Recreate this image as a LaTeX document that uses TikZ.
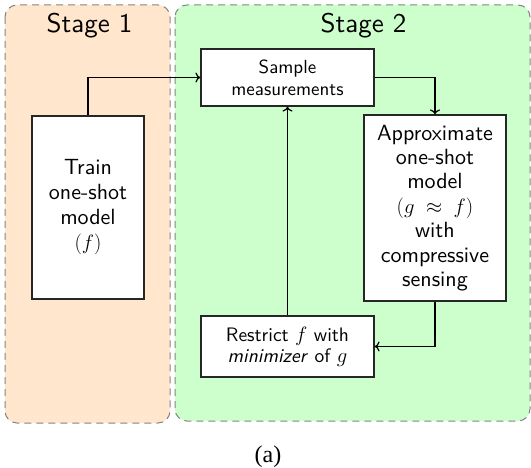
\documentclass[tikz,border=0pt]{standalone}
\usepackage{fontspec}
\usetikzlibrary{arrows.meta}
% sans text at the 10pt design size of Latin Modern Sans, scaled up
\setsansfont{lmsans10-regular.otf}[ItalicFont=lmsans10-oblique.otf]
\newfontfamily\capfont{Liberation Serif}
\definecolor{stageonefill}{HTML}{FFE6CC}
\definecolor{stagetwofill}{HTML}{CCFFCC}
\definecolor{panelborder}{HTML}{858585}
\tikzset{
  panel/.style={draw=panelborder, dashed, dash pattern=on 7pt off 5pt,
                line width=1pt, rounded corners=12pt},
  stagetitle/.style={font=\sffamily\fontsize{27}{30}\selectfont},
  procbox/.style={draw=black!85, fill=white, line width=1.2pt, align=center,
                  inner sep=0pt},
  flow/.style={line width=1.2pt, -{To[length=5pt,width=10pt]}},
}
\begin{document}
\begin{tikzpicture}[x=1pt, y=-1pt]
  \useasboundingbox (0,0) rectangle (531,468);

  % stage panels
  \draw[panel, fill=stageonefill] (5,5) rectangle (170,423);
  \draw[panel, fill=stagetwofill] (175,5) rectangle (530,421);
  \node[stagetitle, anchor=base] (s1) at (89.5,33) {Stage 1};
  \node[stagetitle, anchor=base] (s2) at (363.5,33) {Stage 2};

  % process boxes
  \node[procbox, minimum width=112pt, minimum height=183pt,
        font=\sffamily\fontsize{22}{25}\selectfont] (train) at (88,207.5)
        {Train\\one-shot\\model\\$(f)$};
  \node[procbox, minimum width=173pt, minimum height=57pt,
        font=\sffamily\fontsize{19}{22.3}\selectfont] (sample) at (287.5,77.5)
        {Sample\\measurements};
  \node[procbox, minimum width=142pt, minimum height=186pt,
        font=\sffamily\fontsize{22}{24.4}\selectfont] (approx) at (435,208)
        {Approximate\\one-shot\\model\\$(g\;\approx\;f)$\\with\\compressive\\sensing};
  \node[procbox, minimum width=173pt, minimum height=61pt,
        font=\sffamily\fontsize{19.5}{21}\selectfont] (restrict) at (287.5,346.5)
        {Restrict $f$ with\\\textit{minimizer} of $g$};

  % connectors
  \draw[flow] (train.north) |- (sample.west);
  \draw[flow] (sample.east) -| (approx.north);
  \draw[flow] (approx.south) |- (restrict.east);
  \draw[flow] (restrict.north) -- (sample.south);

  % caption
  \node[font=\capfont\fontsize{24}{28}\selectfont, anchor=base] (cap) at (268,462) {(a)};
\end{tikzpicture}
\end{document}
